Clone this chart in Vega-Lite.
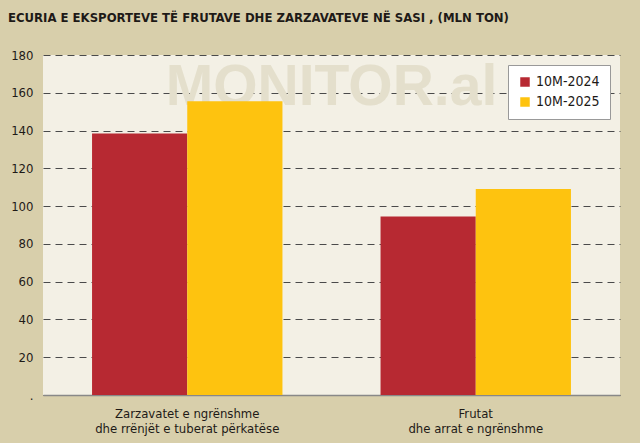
{
  "$schema": "https://vega.github.io/schema/vega-lite/v6.json",
  "autosize": {"type": "fit", "contains": "padding"},
  "width": 640,
  "height": 443,
  "padding": {"left": 8, "right": 20, "top": 12, "bottom": 8},
  "background": "#d8cfab",
  "config": {
    "view": {"fill": "#f3f0e5", "stroke": null},
    "font": "DejaVu Sans Condensed, Roboto, sans-serif",
    "axisY": {
      "title": null,
      "values": [0, 20, 40, 60, 80, 100, 120, 140, 160, 180],
      "labelOverlap": false,
      "labelExpr": "datum.value == 0 ? '.' : datum.label",
      "labelFontSize": 13,
      "labelColor": "#1e1a17",
      "labelPadding": 10,
      "ticks": false,
      "domain": false,
      "grid": true,
      "gridDash": [7, 5],
      "gridColor": "#4a4a4a",
      "gridWidth": 1
    }
  },
  "title": {
    "text": "ECURIA E EKSPORTEVE TË FRUTAVE DHE ZARZAVATEVE NË SASI , (MLN TON)",
    "anchor": "start",
    "frame": "group",
    "offset": 24,
    "dx": -35,
    "font": "DejaVu Sans Condensed, Roboto, sans-serif",
    "fontSize": 13,
    "fontWeight": "bold",
    "color": "#1e1a17"
  },
  "data": {
    "values": [
      {"cat": "Zarzavatet e ngrënshme|dhe rrënjët e tuberat përkatëse", "period": "10M-2024", "value": 138.5},
      {"cat": "Zarzavatet e ngrënshme|dhe rrënjët e tuberat përkatëse", "period": "10M-2025", "value": 155.5},
      {"cat": "Frutat|dhe arrat e ngrënshme", "period": "10M-2024", "value": 94.5},
      {"cat": "Frutat|dhe arrat e ngrënshme", "period": "10M-2025", "value": 109}
    ]
  },
  "layer": [
    {
      "data": {"values": [{"wm": "MONITOR.al", "value": 162.5}]},
      "mark": {"type": "text", "font": "Liberation Sans", "fontWeight": "bold", "fontSize": 57, "color": "#e4dfcc", "baseline": "middle", "align": "center"},
      "encoding": {
        "text": {"field": "wm"},
        "y": {"field": "value", "type": "quantitative", "scale": {"domain": [0, 180], "nice": false}, "axis": {"title": null}}
      }
    },
    {
      "mark": {"type": "bar"},
      "encoding": {
        "x": {
          "field": "cat",
          "type": "nominal",
          "sort": null,
          "scale": {"paddingInner": 0.34, "paddingOuter": 0.17},
          "axis": {
            "title": null,
            "labelAngle": 0,
            "labelExpr": "split(datum.label, '|')",
            "labelFontSize": 13,
            "labelLimit": 0,
            "labelColor": "#1e1a17",
            "labelPadding": 12,
            "labelLineHeight": 15,
            "ticks": false,
            "domain": true,
            "domainColor": "#888888",
            "domainWidth": 1.5
          }
        },
        "xOffset": {"field": "period", "type": "nominal"},
        "y": {
          "field": "value",
          "type": "quantitative",
          "scale": {"domain": [0, 180], "nice": false},
          "axis": {"title": null}
        },
        "color": {
          "field": "period",
          "type": "nominal",
          "scale": {"domain": ["10M-2024", "10M-2025"], "range": ["#b72932", "#fec30f"]},
          "legend": {
            "title": null,
            "orient": "top-right",
            "offset": 10,
            "fillColor": "#ffffff",
            "strokeColor": "#999999",
            "padding": 10,
            "symbolType": "square",
            "symbolSize": 90,
            "labelFontSize": 14,
            "labelColor": "#1e1a17",
            "rowPadding": 6
          }
        }
      }
    }
  ]
}
